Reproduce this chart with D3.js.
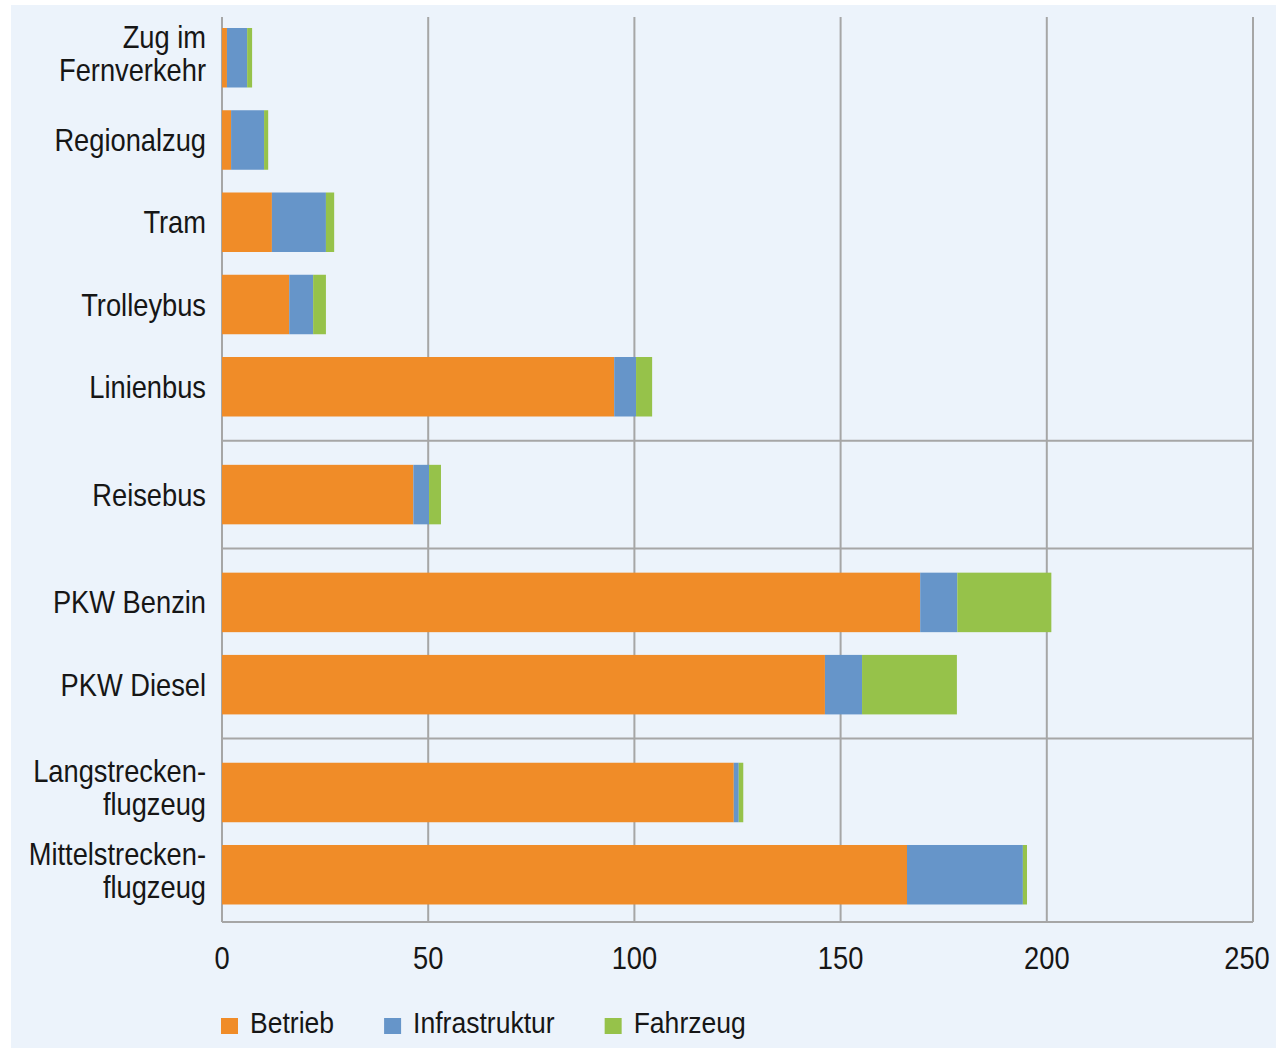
<!DOCTYPE html>
<html>
<head>
<meta charset="utf-8">
<script src="https://cdn.jsdelivr.net/npm/d3@7"></script>
<style>
  body { margin: 0; background: #fff; }
  text { font-family: "Liberation Sans", Arial, sans-serif; fill: #161616; }
</style>
</head>
<body>
<svg id="chart" width="1276" height="1048"></svg>
<script>
// data
var categories = ["Zug im\nFernverkehr", "Regionalzug", "Tram", "Trolleybus", "Linienbus",
  "Reisebus", "PKW Benzin", "PKW Diesel", "Langstrecken-\nflugzeug", "Mittelstrecken-\nflugzeug"];
var groups = [0, 0, 0, 0, 0, 1, 2, 2, 3, 3];
var betrieb = [1.2, 2.2, 12.1, 16.3, 95.1, 46.4, 169.3, 146.2, 124.1, 166.1];
var infrastruktur = [4.9, 8.0, 13.1, 5.8, 5.3, 3.8, 9.0, 9.0, 1.2, 28.1];
var fahrzeug = [1.2, 1.0, 2.0, 3.1, 3.9, 2.9, 22.8, 23.0, 1.1, 1.0];
var seriesNames = ["Betrieb", "Infrastruktur", "Fahrzeug"];
var xTicks = [0, 50, 100, 150, 200, 250];

var colors = ["#F08C28", "#6695C9", "#96C24A"];
var gridColor = "#A6A6A6";

var svg = d3.select("#chart");

// background panel
svg.append("rect")
  .attr("x", 11).attr("y", 5)
  .attr("width", 1265).attr("height", 1043)
  .attr("fill", "#ECF3FB");

var plotTop = 17, plotBottom = 922;
var x = d3.scaleLinear().domain([0, 250]).range([222, 1253]);

// slot positions: one step per bar, plus an extra gap between groups
var groupGap = 0.311;
var barH = 59.5;
function slot(i) { return i + groups[i] * groupGap; }
var yTop = d3.scaleLinear().domain([0, 1]).range([28, 110.25]);

var rows = categories.map(function (c, i) {
  return { cat: c, i: i, Betrieb: betrieb[i], Infrastruktur: infrastruktur[i], Fahrzeug: fahrzeug[i] };
});
var stacked = d3.stack().keys(seriesNames)(rows);

// condensed look: squeeze text horizontally
function place(px, py, sx) { return "translate(" + px + "," + py + ") scale(" + sx + ",1)"; }

// vertical gridlines
svg.append("g").selectAll("line")
  .data(xTicks)
  .enter().append("line")
  .attr("x1", function (d) { return x(d); })
  .attr("x2", function (d) { return x(d); })
  .attr("y1", plotTop).attr("y2", plotBottom)
  .attr("stroke", gridColor).attr("stroke-width", 2);

// group separators
var seps = [];
for (var g = 1; g <= 3; g++) {
  var last = groups.lastIndexOf(g - 1), first = groups.indexOf(g);
  seps.push((yTop(slot(last)) + barH + yTop(slot(first))) / 2);
}
svg.append("g").selectAll("line")
  .data(seps.concat([plotBottom]))
  .enter().append("line")
  .attr("x1", x(0)).attr("x2", x(250))
  .attr("y1", function (d) { return d; })
  .attr("y2", function (d) { return d; })
  .attr("stroke", gridColor).attr("stroke-width", 2);

// bars
svg.append("g").selectAll("g")
  .data(stacked)
  .enter().append("g")
  .attr("fill", function (d, k) { return colors[k]; })
  .selectAll("rect")
  .data(function (d) { return d; })
  .enter().append("rect")
  .attr("x", function (d) { return x(d[0]); })
  .attr("width", function (d) { return x(d[1]) - x(d[0]); })
  .attr("y", function (d) { return yTop(slot(d.data.i)); })
  .attr("height", barH);

// category labels
svg.append("g").selectAll("g")
  .data(rows)
  .enter().append("g")
  .each(function (d) {
    var lines = d.cat.split("\n");
    var cy = yTop(slot(d.i)) + barH / 2;
    var grp = d3.select(this);
    lines.forEach(function (l, j) {
      var base = lines.length == 1 ? cy + 11 : cy - 10 + j * 33;
      grp.append("text")
        .attr("transform", place(206, base, 0.88))
        .attr("text-anchor", "end")
        .style("font-size", "31px")
        .text(l);
    });
  });

// x tick labels (last one pulled in so it stays inside the panel)
svg.append("g").selectAll("text")
  .data(xTicks)
  .enter().append("text")
  .attr("transform", function (d) { return place(Math.min(x(d), 1247), 969, 0.88); })
  .attr("text-anchor", "middle")
  .style("font-size", "31px")
  .text(function (d) { return d; });

// legend
var lg = svg.append("g");
var lx = 221;
seriesNames.forEach(function (name, k) {
  lg.append("rect")
    .attr("x", lx).attr("y", 1018)
    .attr("width", 17).attr("height", 16)
    .attr("fill", colors[k]);
  var t = lg.append("text")
    .attr("transform", place(lx + 29, 1033, 0.885))
    .style("font-size", "30px")
    .text(name);
  lx += 29 + t.node().getComputedTextLength() * 0.885 + 50;
});
</script>
</body>
</html>
